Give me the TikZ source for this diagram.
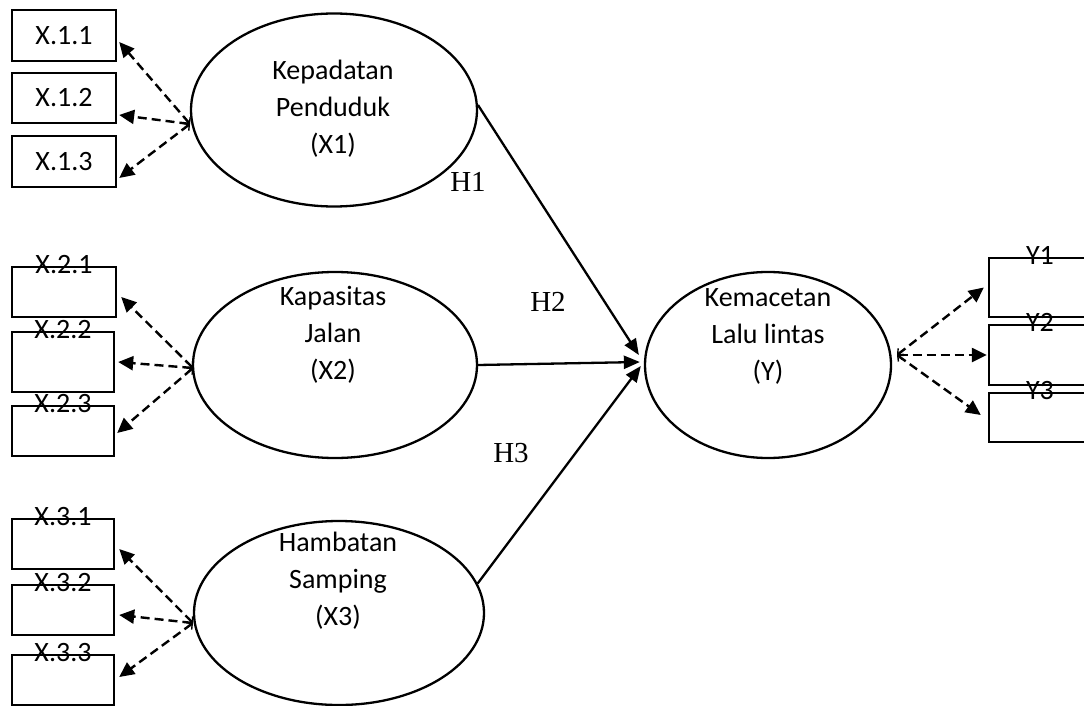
\documentclass[tikz,border=0pt]{standalone}
\usepackage{fontspec}
\setmainfont{Carlito}
\newfontfamily\hfont{Liberation Serif}
\usetikzlibrary{shapes.geometric,arrows.meta}
\begin{document}
\begin{tikzpicture}[x=1pt,y=-1pt,
  ind/.style={draw,line width=2.4pt,minimum width=104pt,minimum height=51pt,inner sep=0pt,font=\fontsize{28}{30}\selectfont},
  lat/.style={draw,ellipse,line width=2.3pt,inner sep=0pt},
  lattext/.style={align=center,inner sep=0pt,font=\fontsize{28}{37}\selectfont},
  load/.style={line width=2.4pt,dash pattern=on 9pt off 5pt,{Straight Barb[length=4pt,width=9pt,line width=1.4pt]}-{Triangle[length=15pt,width=14pt]}},
  hpath/.style={line width=2.3pt,-{Triangle[length=16pt,width=13pt]}},
  hyp/.style={inner sep=0pt,font=\hfont\fontsize{29}{32}\selectfont},
  toplab/.style={label={[anchor=center,yshift=1pt,inner sep=0pt,font=\fontsize{28}{30}\selectfont]north:#1}}
]
\useasboundingbox (0,0) rectangle (1084,706);
\fill[white] (0,0) rectangle (1084,706);

% indicator boxes, group 1
\node[ind] (b11) at (64,35.5) {X.1.1};
\node[ind,minimum height=50pt] (b12) at (64,98) {X.1.2};
\node[ind] (b13) at (64,161.5) {X.1.3};
% group 2
\node[ind,minimum height=50pt,toplab=X.2.1] (b21) at (64,292) {};
\node[ind,minimum width=102pt,minimum height=60pt,toplab=X.2.2] (b22) at (63,362) {};
\node[ind,minimum width=102pt,minimum height=50pt,toplab=X.2.3] (b23) at (63,431) {};
% group 3
\node[ind,minimum width=102pt,minimum height=50pt,toplab=X.3.1] (b31) at (63,544) {};
\node[ind,minimum width=102pt,minimum height=50pt,toplab=X.3.2] (b32) at (63,610) {};
\node[ind,minimum width=102pt,minimum height=50pt,toplab=X.3.3] (b33) at (63,680) {};
% Y indicators
\node[ind,minimum width=102pt,minimum height=59pt,toplab=Y1] (y1) at (1040,287.5) {};
\node[ind,minimum width=102pt,minimum height=60pt,toplab=Y2] (y2) at (1040,355) {};
\node[ind,minimum width=102pt,minimum height=49pt,toplab=Y3] (y3) at (1040,417.5) {};

% latent variables
\node[lat,minimum width=286pt,minimum height=193pt] (e1) at (334,110) {};
\node[lattext] (t1) at (333,109) {Kepadatan\\Penduduk\\(X1)};
\node[lat,minimum width=284pt,minimum height=186pt] (e2) at (335,365) {};
\node[lattext] (t2) at (333,335) {Kapasitas\\Jalan\\(X2)};
\node[lat,minimum width=290pt,minimum height=184pt] (e3) at (339,613) {};
\node[lattext] (t3) at (338,581) {Hambatan\\Samping\\(X3)};
\node[lat,minimum width=246pt,minimum height=186pt] (ey) at (768,365) {};
\node[lattext] (ty) at (768,336) {Kemacetan\\Lalu lintas\\(Y)};

% loading sources
\coordinate (s1) at (190,124);
\coordinate (s2) at (193,368);
\coordinate (s3) at (193,623);
\coordinate (sy) at (897,355);

\draw[load] (s1) -- ([xshift=2pt,yshift=-6.5pt]b11.east);
\draw[load] (s1) -- ([xshift=2pt,yshift=-17pt]b12.east);
\draw[load] (s1) -- ([xshift=2pt,yshift=-16.5pt]b13.east);

\draw[load] (s2) -- ([xshift=4pt,yshift=-5pt]b21.east);
\draw[load] (s2) -- ([xshift=3pt]b22.east);
\draw[load] (s2) -- ([xshift=2pt,yshift=-2pt]b23.east);

\draw[load] (s3) -- ([xshift=4pt,yshift=-5pt]b31.east);
\draw[load] (s3) -- ([xshift=4pt,yshift=-5pt]b32.east);
\draw[load] (s3) -- ([xshift=4pt,yshift=3pt]b33.east);

\draw[load] (sy) -- ([xshift=-4pt]y1.west);
\draw[load] (sy) -- ([xshift=-1pt]y2.west);
\draw[load] (sy) -- ([xshift=-7pt,yshift=2.5pt]y3.west);

% structural paths
\draw[hpath] (e1.2) -- ([xshift=-5pt,yshift=10pt]ey.west);
\draw[hpath] (e2.east) -- ([xshift=-4pt,yshift=3pt]ey.west);
\draw[hpath] (e3.12) -- ([xshift=-3pt,yshift=-1pt]ey.west);

\node[hyp] (h1) at (468,182) {H1};
\node[hyp] (h2) at (548,302) {H2};
\node[hyp] (h3) at (511,453) {H3};
\end{tikzpicture}
\end{document}
